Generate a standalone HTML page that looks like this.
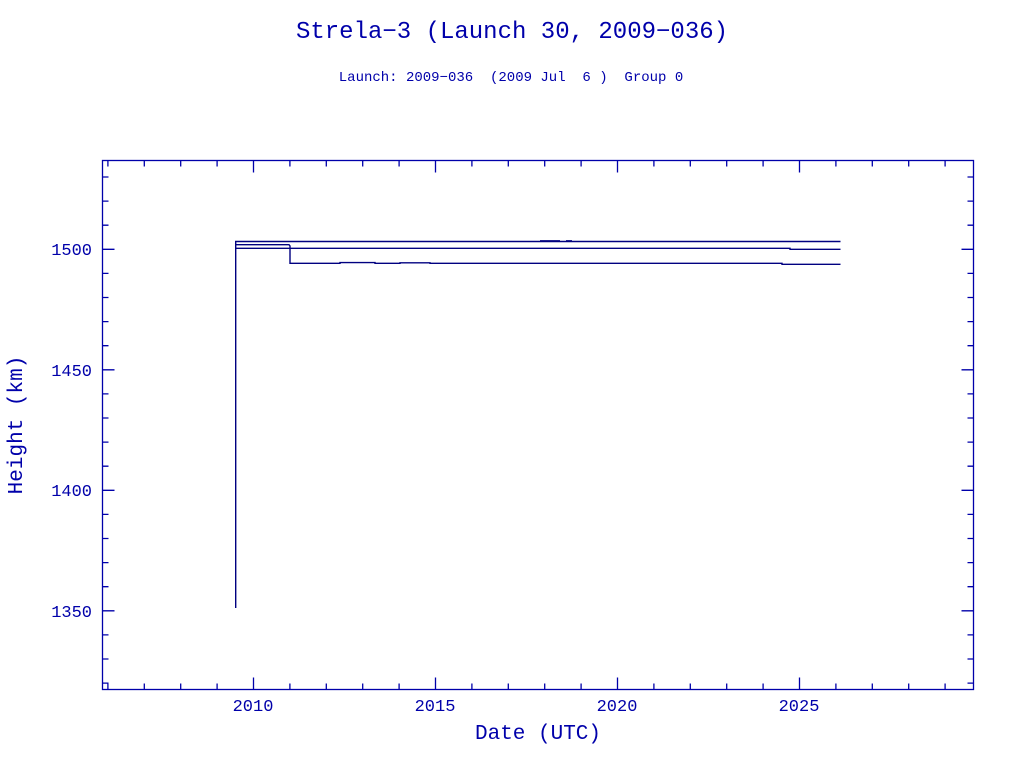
<!DOCTYPE html>
<html><head><style>body{margin:0;background:#fff}</style></head><body>
<svg width="1024" height="768" xmlns="http://www.w3.org/2000/svg" fill="#0000aa">
<text x="512" y="38" font-size="24" text-anchor="middle" font-family="Liberation Mono, monospace">Strela−3 (Launch 30, 2009−036)</text>
<text x="511" y="81" font-size="14" text-anchor="middle" font-family="Liberation Mono, monospace" xml:space="preserve" style="white-space:pre">Launch: 2009−036  (2009 Jul  6 )  Group 0</text>
<g stroke="#0000aa" stroke-width="1.3" fill="none">
<rect x="102.5" y="160.5" width="871" height="529"/>
<path d="M107.9,160.5v6M144.3,160.5v6M180.7,160.5v6M217.1,160.5v6M253.5,160.5v12M289.9,160.5v6M326.3,160.5v6M362.7,160.5v6M399.1,160.5v6M435.5,160.5v12M471.9,160.5v6M508.3,160.5v6M544.7,160.5v6M581.1,160.5v6M617.5,160.5v12M653.9,160.5v6M690.3,160.5v6M726.7,160.5v6M763.1,160.5v6M799.5,160.5v12M835.9,160.5v6M872.3,160.5v6M908.7,160.5v6M945.1,160.5v6"/>
<path d="M107.9,689.5v-6M144.3,689.5v-6M180.7,689.5v-6M217.1,689.5v-6M253.5,689.5v-12M289.9,689.5v-6M326.3,689.5v-6M362.7,689.5v-6M399.1,689.5v-6M435.5,689.5v-12M471.9,689.5v-6M508.3,689.5v-6M544.7,689.5v-6M581.1,689.5v-6M617.5,689.5v-12M653.9,689.5v-6M690.3,689.5v-6M726.7,689.5v-6M763.1,689.5v-6M799.5,689.5v-12M835.9,689.5v-6M872.3,689.5v-6M908.7,689.5v-6M945.1,689.5v-6"/>
<path d="M102.5,683.1h6M102.5,659h6M102.5,634.9h6M102.5,610.8h12M102.5,586.7h6M102.5,562.6h6M102.5,538.5h6M102.5,514.4h6M102.5,490.3h12M102.5,466.2h6M102.5,442.1h6M102.5,418h6M102.5,393.9h6M102.5,369.8h12M102.5,345.7h6M102.5,321.6h6M102.5,297.5h6M102.5,273.4h6M102.5,249.3h12M102.5,225.2h6M102.5,201.1h6M102.5,177h6"/>
<path d="M973.5,683.1h-6M973.5,659h-6M973.5,634.9h-6M973.5,610.8h-12M973.5,586.7h-6M973.5,562.6h-6M973.5,538.5h-6M973.5,514.4h-6M973.5,490.3h-12M973.5,466.2h-6M973.5,442.1h-6M973.5,418h-6M973.5,393.9h-6M973.5,369.8h-12M973.5,345.7h-6M973.5,321.6h-6M973.5,297.5h-6M973.5,273.4h-6M973.5,249.3h-12M973.5,225.2h-6M973.5,201.1h-6M973.5,177h-6"/>
</g>
<g stroke="#000080" stroke-width="1.4" fill="none">
<path d="M235.7,608 V241.5 H840.5"/>
<path d="M235.7,244.7 H289 L290,246 V263.3 H340 V262.6 H375 V263.3 H400 V262.8 H430 V263.3 H782 V264.3 H840.5"/>
<path d="M235.7,248.3 H790 V249.3 H840.5"/>
<path d="M540,240.8 H560 M566,240.8 H572"/>
</g>
<g font-size="17" font-family="Liberation Mono, monospace" text-anchor="middle">
<text x="253" y="711">2010</text><text x="435" y="711">2015</text><text x="617" y="711">2020</text><text x="799" y="711">2025</text>
</g>
<g font-size="17" font-family="Liberation Mono, monospace" text-anchor="end">
<text x="92" y="255">1500</text><text x="92" y="376">1450</text><text x="92" y="496">1400</text><text x="92" y="617">1350</text>
</g>
<text x="538" y="739" font-size="21" text-anchor="middle" font-family="Liberation Mono, monospace">Date (UTC)</text>
<text transform="translate(22,425) rotate(-90)" font-size="21" text-anchor="middle" font-family="Liberation Mono, monospace">Height (km)</text>
</svg>
</body></html>
